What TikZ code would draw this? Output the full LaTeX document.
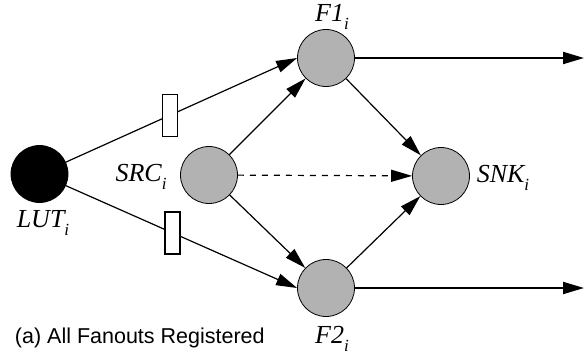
\documentclass[tikz,border=0pt]{standalone}
\usepackage{fontspec}
\setsansfont{Liberation Sans}
\newfontfamily\labfont{Liberation Serif}
\newcommand{\lab}[2]{{\labfont\itshape\fontsize{26}{30}\selectfont #1\raisebox{-0.3em}{\fontsize{17}{18}\selectfont #2}}}
\usetikzlibrary{arrows.meta,positioning}

\begin{document}
\begin{tikzpicture}[x=1pt,y=-1pt,>={Triangle[length=21pt,width=12pt]},line width=1.2pt]
\tikzstyle{v}=[circle,draw,line width=0.8pt,minimum size=57pt,inner sep=0pt,fill=black!30]
\tikzstyle{reg}=[draw,fill=white,line width=1.5pt,minimum width=15pt,minimum height=42pt,inner sep=0pt]
\useasboundingbox (0,0) rectangle (587,356);
% vertices
\node[v,fill=black] (lut) at (39.5,174) {};
\node[v] (src) at (209,175) {};
\node[v] (f1) at (326,58) {};
\node[v] (f2) at (326,288) {};
\node[v] (snk) at (441,176) {};
\node (lutl) at (43,223) {\lab{LUT}{i}};
\node (srcl) at (141,177) {\lab{SRC}{i}};
\node (f1l) at (332,17) {\lab{F1}{i}};
\node (f2l) at (332,339) {\lab{F2}{i}};
\node (snkl) at (503,178) {\lab{SNK}{i}};
\coordinate (o1) at (584,58);
\coordinate (o2) at (584,288);
% registered fanouts
\draw[->] (lut) -- node[reg,pos=0.45] (r1) {} (f1.west);
\draw[->] (lut) -- node[reg,pos=0.46] (r2) {} (f2.west);
\draw[->] (src) -- (f1);
\draw[->] (src) -- (f2);
\draw[->,dashed,dash pattern=on 6pt off 6pt] (src) -- (snk);
\draw[->] (f1) -- (snk);
\draw[->] (f2) -- (snk);
\draw[->,line width=2pt] (f1) -- (o1);
\draw[->,line width=2pt] (f2) -- (o2);
\node[anchor=base west,font=\sffamily\fontsize{21.5}{24}\selectfont] (cap) at (11,343) {(a) All Fanouts Registered};
\end{tikzpicture}
\end{document}
